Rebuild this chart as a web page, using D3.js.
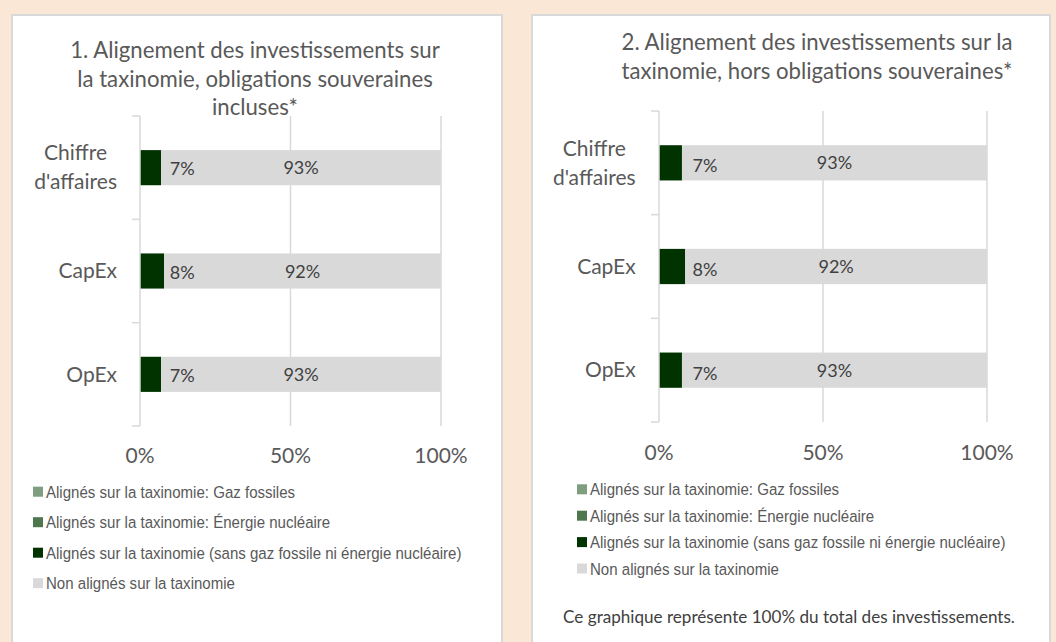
<!DOCTYPE html>
<html>
<head>
<meta charset="utf-8">
<script src="https://cdn.jsdelivr.net/npm/d3@7"></script>
<style>
  html, body { margin: 0; padding: 0; background: #FBE7D5; }
  svg { display: block; }
</style>
</head>
<body>
<svg id="chart" width="1056" height="642"></svg>
<script>
// ---- Data ----
const categories = ["Chiffre d'affaires", "CapEx", "OpEx"];
const seriesNames = [
  "Alignés sur la taxinomie: Gaz fossiles",
  "Alignés sur la taxinomie: Énergie nucléaire",
  "Alignés sur la taxinomie (sans gaz fossile ni énergie nucléaire)",
  "Non alignés sur la taxinomie"
];
const xTicks = [0, 50, 100];

// Chart 1: sovereign bonds included
const gas1 = [0, 0, 0];
const nuclear1 = [0, 0, 0];
const aligned1 = [7, 8, 7];
const notAligned1 = [93, 92, 93];

// Chart 2: sovereign bonds excluded
const gas2 = [0, 0, 0];
const nuclear2 = [0, 0, 0];
const aligned2 = [7, 8, 7];
const notAligned2 = [93, 92, 93];

const title1 = ["1. Alignement des investissements sur", "la taxinomie, obligations souveraines", "incluses*"];
const title2 = ["2. Alignement des investissements sur la", "taxinomie, hors obligations souveraines*"];
const footnote2 = "Ce graphique représente 100% du total des investissements.";

// ---- Styling ----
const colors = ["#7F9D7F", "#4E774E", "#003300", "#D9D9D9"];
const mainFont = "Lato, 'Open Sans', sans-serif";
const legendFont = "'Liberation Sans', Arial, sans-serif";

const svg = d3.select("#chart");

function drawPanel(cfg) {
  const g = svg.append("g");

  // card
  g.append("rect")
    .attr("x", cfg.box[0]).attr("y", cfg.box[1])
    .attr("width", cfg.box[2]).attr("height", cfg.box[3])
    .attr("fill", "#fff").attr("stroke", "#D9D9D9").attr("stroke-width", 2);

  // title
  const t = g.append("text")
    .attr("font-family", mainFont).attr("font-size", 22.2)
    .attr("fill", "#595959").attr("text-anchor", "middle");
  cfg.title.forEach((line, i) => {
    t.append("tspan").attr("x", cfg.titleX).attr("y", cfg.titleY + i * 28.5).text(line);
  });

  const x = d3.scaleLinear().domain([0, 100]).range([cfg.plot.x0, cfg.plot.x1]);
  const y = d3.scaleBand().domain(categories)
    .range([cfg.plot.y0, cfg.plot.y1]).paddingInner(0.66).paddingOuter(0.33);

  // gridlines
  g.append("g").selectAll("line").data(xTicks.filter(d => d > 0)).join("line")
    .attr("x1", d => x(d)).attr("x2", d => x(d))
    .attr("y1", cfg.plot.y0).attr("y2", cfg.plot.y1)
    .attr("stroke", "#D9D9D9").attr("stroke-width", 1.5);

  // stacked bars
  const rows = categories.map((c, i) => ({
    cat: c, vals: [cfg.gas[i], cfg.nuclear[i], cfg.aligned[i], cfg.notAligned[i]]
  }));
  const stack = d3.stack().keys([0, 1, 2, 3]).value((d, k) => d.vals[k]);
  const layers = stack(rows);
  g.append("g").selectAll("g").data(layers).join("g")
    .attr("fill", (d, i) => colors[i])
    .selectAll("rect").data(d => d).join("rect")
    .attr("x", d => x(d[0])).attr("width", d => x(d[1]) - x(d[0]))
    .attr("y", d => y(d.data.cat)).attr("height", y.bandwidth());

  // category axis (left) with ticks between bands
  const edges = d3.range(categories.length + 1)
    .map(i => cfg.plot.y0 + i * (cfg.plot.y1 - cfg.plot.y0) / categories.length);
  g.append("line")
    .attr("x1", x(0)).attr("x2", x(0)).attr("y1", cfg.plot.y0).attr("y2", cfg.plot.y1)
    .attr("stroke", "#D9D9D9").attr("stroke-width", 1.5);
  g.append("g").selectAll("line").data(edges).join("line")
    .attr("x1", x(0) - 8).attr("x2", x(0)).attr("y1", d => d).attr("y2", d => d)
    .attr("stroke", "#D9D9D9").attr("stroke-width", 1.5);

  // category labels
  const catG = g.append("g").attr("font-family", mainFont).attr("font-size", 21).attr("fill", "#595959");
  categories.forEach(c => {
    const lines = c === "Chiffre d'affaires" ? ["Chiffre", "d'affaires"] : [c];
    const cy = y(c) + y.bandwidth() / 2;
    const txt = catG.append("text").attr("text-anchor", "middle");
    const spans = lines.map((l, i) => txt.append("tspan").text(l)
      .attr("y", cy + 7.3 + (i - (lines.length - 1) / 2) * 29));
    const w = d3.max(spans, s => s.node().getComputedTextLength());
    spans.forEach(s => s.attr("x", x(0) - cfg.catGap - w / 2));
  });

  // x tick labels
  g.append("g").selectAll("text").data(xTicks).join("text")
    .attr("x", d => x(d)).attr("y", cfg.xLabelY)
    .attr("text-anchor", "middle").attr("font-family", mainFont).attr("font-size", 21)
    .attr("fill", "#595959").text(d => d + "%");

  // data labels
  const lbl = g.append("g").attr("font-family", mainFont).attr("font-size", 18)
    .attr("fill", "#404040").attr("text-anchor", "middle");
  rows.forEach((r, i) => {
    const cy = y(r.cat) + y.bandwidth() / 2;
    lbl.append("text").attr("x", x(14)).attr("y", cy + cfg.smallDy).text(cfg.aligned[i] + "%");
    lbl.append("text").attr("x", x(cfg.aligned[i] + cfg.notAligned[i] / 2)).attr("y", cy + 6.5)
      .text(cfg.notAligned[i] + "%");
  });

  // legend (condensed sans)
  const leg = g.append("g").attr("font-family", legendFont).attr("font-size", 17).attr("fill", "#595959");
  seriesNames.forEach((s, i) => {
    const cy = cfg.legend.y + i * cfg.legend.step;
    leg.append("rect").attr("x", cfg.legend.x).attr("y", cy - 5).attr("width", 10).attr("height", 10)
      .attr("fill", colors[i]);
    leg.append("text")
      .attr("transform", `translate(${cfg.legend.x + 13},${cy + 6}) scale(0.885,1)`)
      .text(s);
  });

  if (cfg.footnote) {
    g.append("text").attr("x", cfg.footnote.x).attr("y", cfg.footnote.y)
      .attr("text-anchor", "middle").attr("font-family", mainFont).attr("font-size", 17.1)
      .attr("fill", "#404040").text(cfg.footnote.text);
  }
}

drawPanel({
  box: [12, 15, 490, 640],
  title: title1, titleX: 255, titleY: 58.3,
  plot: { x0: 140, x1: 441, y0: 116, y1: 426 },
  catGap: 23, xLabelY: 463, smallDy: 7.5,
  gas: gas1, nuclear: nuclear1, aligned: aligned1, notAligned: notAligned1,
  legend: { x: 33, y: 491.7, step: 30.5 }
});

drawPanel({
  box: [532, 15, 518, 640],
  title: title2, titleX: 817, titleY: 50,
  plot: { x0: 659, x1: 987, y0: 111, y1: 422 },
  catGap: 23.3, xLabelY: 460, smallDy: 9.5,
  gas: gas2, nuclear: nuclear2, aligned: aligned2, notAligned: notAligned2,
  legend: { x: 577, y: 489.3, step: 26.4 },
  footnote: { x: 789, y: 623, text: footnote2 }
});
</script>
</body>
</html>
